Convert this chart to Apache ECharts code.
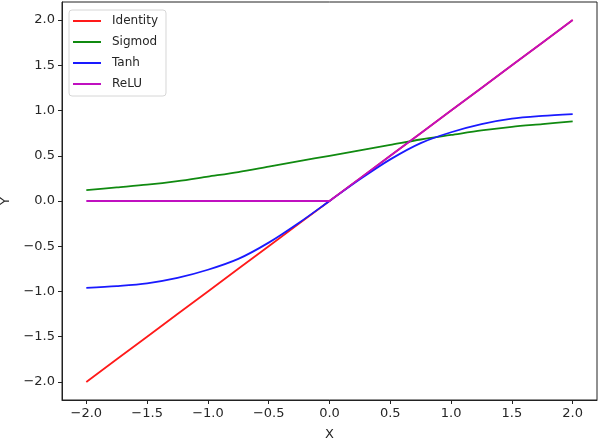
<!DOCTYPE html>
<html>
<head>
<meta charset="utf-8">
<script src="https://cdn.jsdelivr.net/npm/echarts@6/dist/echarts.min.js"></script>
<style>
  html, body { margin: 0; padding: 0; background: #fff; }
  #main { width: 604px; height: 444px; }
</style>
</head>
<body>
<div id="main"></div>
<script>
var chartDom = document.getElementById('main');
var myChart = echarts.init(chartDom);
var option;

// sample points along x
var xs = [-2, -1.75, -1.5, -1.25, -1, -0.75, -0.5, -0.25, 0, 0.25, 0.5, 0.75, 1, 1.25, 1.5, 1.75, 2];
var identity = [-2, -1.75, -1.5, -1.25, -1, -0.75, -0.5, -0.25, 0, 0.25, 0.5, 0.75, 1, 1.25, 1.5, 1.75, 2];
var sigmod = [0.12, 0.15, 0.18, 0.22, 0.27, 0.32, 0.38, 0.44, 0.5, 0.56, 0.62, 0.68, 0.73, 0.78, 0.82, 0.85, 0.88];
var tanh = [-0.96, -0.94, -0.91, -0.85, -0.76, -0.64, -0.46, -0.24, 0, 0.24, 0.46, 0.64, 0.76, 0.85, 0.91, 0.94, 0.96];
var relu = [0, 0, 0, 0, 0, 0, 0, 0, 0, 0.25, 0.5, 0.75, 1, 1.25, 1.5, 1.75, 2];

// tick labels
var xTicks = [-2, -1.5, -1, -0.5, 0, 0.5, 1, 1.5, 2];
var yTicks = [-2, -1.5, -1, -0.5, 0, 0.5, 1, 1.5, 2];

function pairs(ys) {
  return xs.map(function (x, i) { return [x, ys[i]]; });
}
function fmt(v) {
  return v.toFixed(1).replace('-', '\u2212');
}

var font = 'DejaVu Sans';
var ink = '#262626';

option = {
  animation: false,
  grid: {
    left: 62, right: 7, top: 2, bottom: 44,
    outerBoundsMode: 'none',
    containLabel: false,
    show: true, borderColor: '#222', borderWidth: 1
  },
  legend: {
    orient: 'vertical',
    left: 69, top: 10,
    itemWidth: 28, itemHeight: 2,
    icon: 'rect',
    itemGap: 7,
    padding: [4, 8, 5, 4],
    borderColor: '#d6d6d6', borderWidth: 1, borderRadius: 3,
    backgroundColor: 'rgba(255,255,255,0.8)',
    textStyle: { fontFamily: font, fontSize: 12, color: ink, lineHeight: 14, padding: [0, 0, 0, 6] },
    data: ['Identity', 'Sigmod', 'Tanh', 'ReLU']
  },
  xAxis: {
    type: 'value',
    min: -2.2, max: 2.2,
    name: 'X', nameLocation: 'middle', nameGap: 28,
    nameTextStyle: { fontFamily: font, fontSize: 13, color: ink },
    axisLine: { onZero: false, lineStyle: { color: '#222' } },
    axisTick: { show: true, inside: false, length: 4, customValues: xTicks, lineStyle: { color: '#222' } },
    axisLabel: { customValues: xTicks, formatter: fmt, fontFamily: font, fontSize: 13, color: ink, margin: 7 },
    splitLine: { show: false }
  },
  yAxis: {
    type: 'value',
    min: -2.2, max: 2.2,
    name: 'Y', nameLocation: 'middle', nameGap: 50, nameRotate: 90,
    nameTextStyle: { fontFamily: font, fontSize: 13, color: ink },
    axisLine: { show: true, onZero: false, lineStyle: { color: '#222' } },
    axisTick: { show: true, inside: false, length: 4, customValues: yTicks, lineStyle: { color: '#222' } },
    axisLabel: { customValues: yTicks, formatter: fmt, fontFamily: font, fontSize: 13, color: ink, margin: 7 },
    splitLine: { show: false }
  },
  series: [
    { name: 'Identity', type: 'line', data: pairs(identity), showSymbol: false, symbol: 'none',
      lineStyle: { color: '#ff1a1a', width: 1.8 }, itemStyle: { color: '#ff1a1a' } },
    { name: 'Sigmod', type: 'line', data: pairs(sigmod), smooth: 0.3, showSymbol: false, symbol: 'none',
      lineStyle: { color: '#108a10', width: 1.8 }, itemStyle: { color: '#108a10' } },
    { name: 'Tanh', type: 'line', data: pairs(tanh), smooth: 0.3, showSymbol: false, symbol: 'none',
      lineStyle: { color: '#1a1aff', width: 1.8 }, itemStyle: { color: '#1a1aff' } },
    { name: 'ReLU', type: 'line', data: pairs(relu), showSymbol: false, symbol: 'none',
      lineStyle: { color: '#c010c0', width: 1.8 }, itemStyle: { color: '#c010c0' } }
  ]
};

option && myChart.setOption(option);
</script>
</body>
</html>
